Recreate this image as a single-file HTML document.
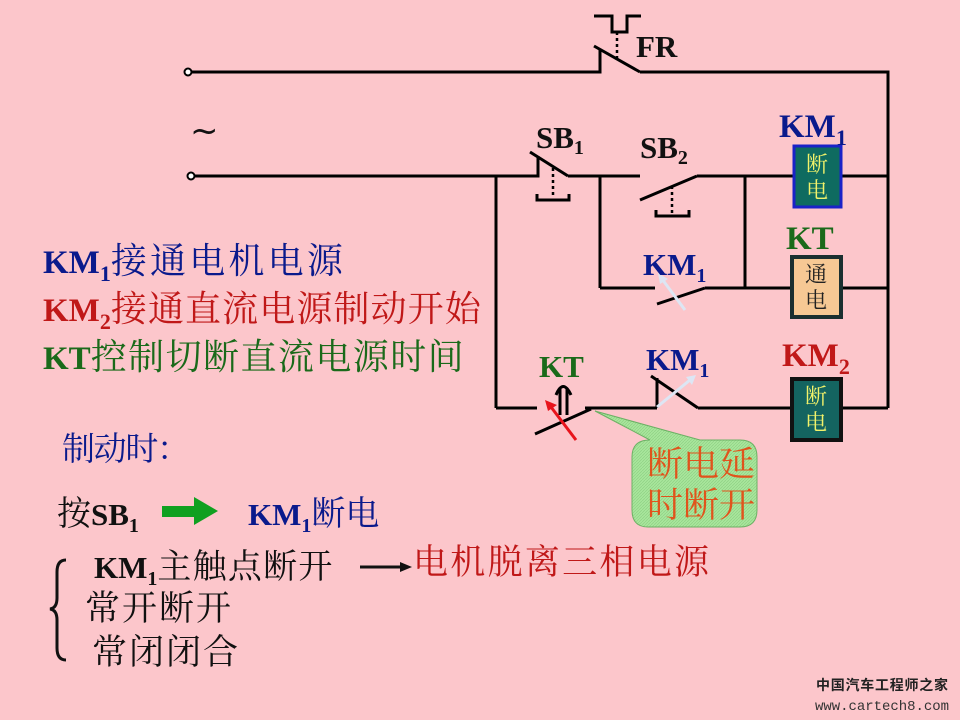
<!DOCTYPE html>
<html><head><meta charset="utf-8"><style>
html,body{margin:0;padding:0;background:#fcc6cb;}
svg{display:block}
.s{font-family:"Liberation Serif","Noto Serif CJK SC",serif;font-weight:bold}
.c{font-family:"Liberation Serif","Noto Serif CJK SC",serif}
</style></head><body>
<svg width="960" height="720" viewBox="0 0 960 720" xmlns="http://www.w3.org/2000/svg">
<defs>
<pattern id="h" width="3" height="3" patternUnits="userSpaceOnUse"><rect width="3" height="3" fill="#a8e69c"/><path d="M0 3L3 0" stroke="#8fd084" stroke-width="0.7"/></pattern>
</defs>
<rect width="960" height="720" fill="#fcc6cb"/>
<g stroke="#000" stroke-width="3" fill="none">
<polyline points="188,72 600,72 600,50"/>
<line x1="594" y1="46" x2="640" y2="72"/>
<polyline points="640,72 888,72 888,408"/>
<polyline points="594,16 612,16 612,32 627,32 627,16 641,16"/>
<polyline points="190,176 538,176 538,156"/>
<line x1="530" y1="152" x2="568" y2="176"/>
<line x1="568" y1="176" x2="640" y2="176"/>
<line x1="640" y1="200" x2="697" y2="176"/>
<line x1="697" y1="176" x2="888" y2="176"/>
<polyline points="537,194 537,200 569,200 569,194"/>
<polyline points="656,210 656,216 689,216 689,210"/>
<line x1="496" y1="176" x2="496" y2="408"/>
<line x1="600" y1="176" x2="600" y2="288"/>
<line x1="745" y1="176" x2="745" y2="288"/>
<line x1="600" y1="288" x2="655" y2="288"/>
<line x1="657" y1="304" x2="705" y2="288"/>
<line x1="705" y1="288" x2="888" y2="288"/>
<line x1="496" y1="408" x2="537" y2="408"/>
<line x1="585" y1="408" x2="657" y2="408"/>
<line x1="657" y1="408" x2="657" y2="378"/>
<line x1="651" y1="376" x2="698" y2="408"/>
<line x1="698" y1="408" x2="888" y2="408"/>
<line x1="535" y1="434" x2="591" y2="409"/>
<line x1="560" y1="388" x2="560" y2="415"/>
<line x1="567" y1="388" x2="567" y2="415"/>
<path d="M556 395 Q563 378 571 395"/>
</g>
<g stroke="#000" stroke-width="2.5" stroke-dasharray="3,3">
<line x1="617" y1="32" x2="617" y2="58"/>
<line x1="553" y1="168" x2="553" y2="198"/>
<line x1="672" y1="186" x2="672" y2="214"/>
</g>
<circle cx="188" cy="72" r="3.5" fill="#fff" stroke="#000" stroke-width="2"/>
<circle cx="191" cy="176" r="3.5" fill="#fff" stroke="#000" stroke-width="2"/>
<line x1="685" y1="310" x2="662" y2="279" stroke="#dde6f4" stroke-width="3"/>
<polygon points="658,273 668,279 660,284" fill="#dde6f4"/>
<line x1="657" y1="407" x2="690" y2="380" stroke="#dde6f4" stroke-width="3"/>
<polygon points="696,375 686,377 692,385" fill="#dde6f4"/>
<line x1="576" y1="440" x2="551" y2="407" stroke="#e8141c" stroke-width="3"/>
<polygon points="545,400 557,405 548,411" fill="#e8141c"/>
<rect x="794" y="146" width="47" height="61" fill="#0f6b60" stroke="#1a22c8" stroke-width="3"/>
<rect x="792" y="257" width="49" height="60" fill="#f6c894" stroke="#1a2f30" stroke-width="4"/>
<rect x="792" y="379" width="49" height="61" fill="#146460" stroke="#111" stroke-width="4"/>
<g class="c" font-size="22" text-anchor="middle">
<text x="817" y="172" fill="#f2f26a">断</text><text x="817" y="198" fill="#f2f26a">电</text>
<text x="816" y="282" fill="#222">通</text><text x="816" y="308" fill="#222">电</text>
<text x="816" y="404" fill="#f2f26a">断</text><text x="816" y="430" fill="#f2f26a">电</text>
</g>
<path d="M650 440 L595 411 L700 440 L740 440 Q757 440 757 457 L757 510 Q757 527 740 527 L648 527 Q632 527 632 510 L632 457 Q632 440 650 440Z" fill="url(#h)" stroke="#6cb064" stroke-width="1"/>
<g class="c" font-size="35" fill="#e0541c">
<text x="647" y="476" textLength="108" lengthAdjust="spacingAndGlyphs">断电延</text>
<text x="647" y="517" textLength="108" lengthAdjust="spacingAndGlyphs">时断开</text>
</g>
<g class="s">
<text x="636" y="57" font-size="31" fill="#111">FR</text>
<text x="536" y="148" font-size="31" fill="#111">SB<tspan font-size="20" dy="6">1</tspan></text>
<text x="640" y="158" font-size="31" fill="#111">SB<tspan font-size="20" dy="6">2</tspan></text>
<text x="779" y="137" font-size="33" fill="#0a1a8c">KM<tspan font-size="22" dy="8">1</tspan></text>
<text x="786" y="249" font-size="33" fill="#1a6a1a">KT</text>
<text x="643" y="275" font-size="31" fill="#0a1a8c">KM<tspan font-size="20" dy="7">1</tspan></text>
<text x="646" y="370" font-size="31" fill="#0a1a8c">KM<tspan font-size="20" dy="7">1</tspan></text>
<text x="539" y="377" font-size="31" fill="#1a6a1a">KT</text>
<text x="782" y="366" font-size="33" fill="#c01818">KM<tspan font-size="22" dy="8">2</tspan></text>
</g>
<text x="190" y="142" font-family="DejaVu Sans,sans-serif" font-size="34" fill="#111">~</text>
<g class="s" font-size="33">
<text x="43" y="273" fill="#0a1a8c">KM<tspan font-size="22" dy="8">1</tspan><tspan dy="-8" font-weight="normal" font-size="36" textLength="232">接通电机电源</tspan></text>
<text x="43" y="321" fill="#c01818">KM<tspan font-size="22" dy="8">2</tspan><tspan dy="-8" font-weight="normal" font-size="36" textLength="370">接通直流电源制动开始</tspan></text>
<text x="43" y="369" fill="#1a6a1a">KT<tspan font-weight="normal" font-size="36" textLength="373">控制切断直流电源时间</tspan></text>
</g>
<text x="62" y="460" class="c" font-size="33" fill="#0a1a8c" textLength="128">制动时：</text>
<text x="57" y="525" class="s" font-size="31" fill="#111"><tspan font-weight="normal" font-size="34">按</tspan>SB<tspan font-size="20" dy="7">1</tspan></text>
<rect x="162" y="506" width="34" height="11" fill="#10a020"/>
<polygon points="194,497 218,511 194,525" fill="#10a020"/>
<text x="248" y="525" class="s" font-size="31" fill="#0a1a8c">KM<tspan font-size="20" dy="7">1</tspan><tspan dy="-7" font-weight="normal" font-size="34">断电</tspan></text>
<text x="94" y="578" class="s" font-size="31" fill="#111">KM<tspan font-size="20" dy="7">1</tspan><tspan dy="-7" font-weight="normal" font-size="34" textLength="175">主触点断开</tspan></text>
<line x1="360" y1="567" x2="402" y2="567" stroke="#111" stroke-width="3"/>
<polygon points="400,562 412,567 400,572" fill="#111"/>
<text x="413" y="574" class="c" font-size="35" fill="#c01818" textLength="296">电机脱离三相电源</text>
<path d="M66 560 Q57 560 57 572 L57 598 Q57 608 50 609 Q57 610 57 620 L57 648 Q57 660 66 660" fill="none" stroke="#111" stroke-width="3"/>
<text x="85" y="620" class="c" font-size="35" fill="#111" textLength="146">常开断开</text>
<text x="92" y="664" class="c" font-size="35" fill="#111" textLength="146">常闭闭合</text>
<text x="816" y="690" font-family="Liberation Sans,Noto Sans CJK SC,sans-serif" font-size="14" font-weight="bold" fill="#222" textLength="132">中国汽车工程师之家</text>
<text x="815" y="710" font-family="Liberation Mono,monospace" font-size="14" fill="#333" textLength="134">www.cartech8.com</text>
</svg>
</body></html>
